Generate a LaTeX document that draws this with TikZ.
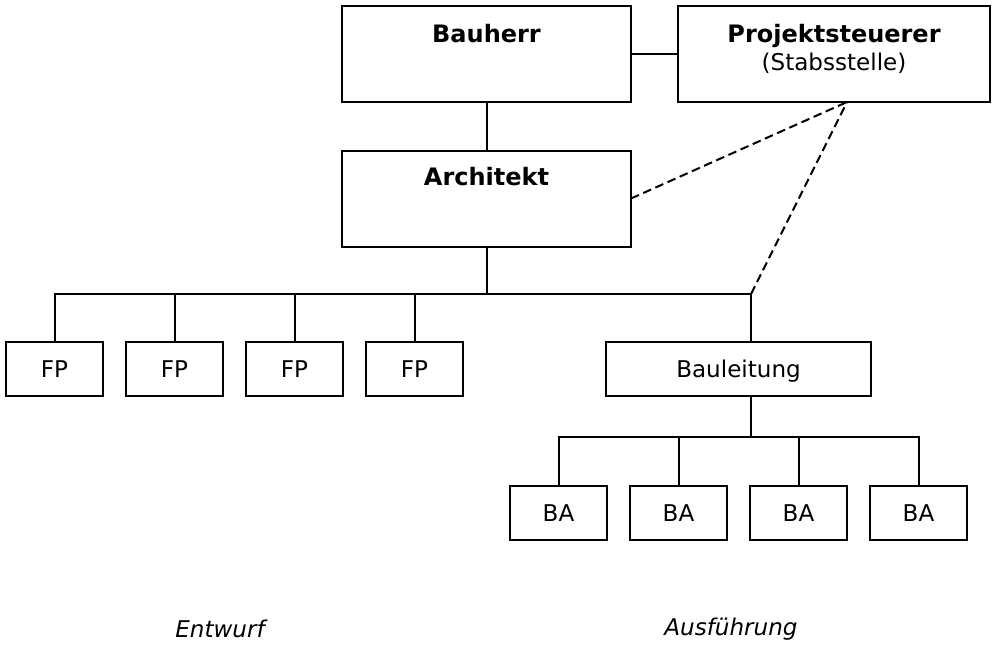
\documentclass[tikz,border=0pt]{standalone}
\usepackage{fontspec}
\setmainfont{DejaVu Sans}
\usetikzlibrary{calc}
\newcommand{\Px}{0.75pt}
\newcommand{\Edge}{1.5pt}
\newcommand{\BoxW}{97}
\newcommand{\BoxH}{54}
\newcommand{\Pitch}{120}
\definecolor{ink}{HTML}{000000}

\tikzset{
  bigbox/.style={draw=ink, line width=\Edge, inner sep=0pt, outer sep=0pt,
    minimum width=289*\Px, minimum height=96*\Px},
  smallbox/.style={draw=ink, line width=\Edge, inner sep=0pt, outer sep=0pt,
    minimum width=\BoxW*\Px, minimum height=\BoxH*\Px,
    text height=0.95em, text depth=0.25em},
  link/.style={draw=ink, line width=\Edge},
  dashlink/.style={link, dash pattern=on 6.5pt off 3.5pt},
  titletxt/.style={font=\fontsize{18}{21}\selectfont\bfseries, inner sep=0pt, anchor=base},
  subtxt/.style={inner sep=0pt, anchor=base},
  phasetxt/.style={font=\itshape, inner sep=0pt},
}

\begin{document}
\fontsize{17.3}{20}\selectfont
\begin{tikzpicture}[x=\Px,y=-\Px]
  \useasboundingbox (0,0) rectangle (994,646);

  % ---- top: client and project control --------------------------------------
  \node[bigbox] (bauherr) at (486.5,54) {};
  \node[titletxt] (bauherrtxt) at ($(bauherr.north)+(0,36)$) {Bauherr};
  \node[bigbox, minimum width=312*\Px] (steuerer) at (834,54) {};
  \node[titletxt] (steuerertxt) at ($(steuerer.north)+(0,36)$) {Projektsteuerer};
  \node[subtxt] (stabstxt) at ($(steuerer.north)+(0,64)$) {(Stabsstelle)};
  \draw[link] (bauherr.east) -- (steuerer.west);

  % ---- architect ------------------------------------------------------------
  \node[bigbox] (architekt) at (486.5,198.5) {};
  \node[titletxt] (architekttxt) at ($(architekt.north)+(0,35)$) {Architekt};
  \draw[link] (bauherr.south) -- (architekt.north);

  % ---- planners and site management ---------------------------------------
  \foreach \i in {1,...,4} {
    \pgfmathsetmacro\x{54.5 + (\i-1)*\Pitch}
    \node[smallbox] (fp\i) at (\x,369) {FP};
  }
  \node[smallbox, minimum width=265*\Px] (bauleitung) at (738.5,369) {Bauleitung};

  \coordinate (blbus) at (751,294);
  \draw[link] (fp1.north) |- (blbus) -- (blbus |- bauleitung.north);
  \foreach \i in {2,3,4} {
    \draw[link] (fp\i.north) -- (fp\i.north |- blbus);
  }
  \draw[link] (architekt.south) -- (architekt.south |- blbus);

  % ---- site crews -----------------------------------------------------------
  \foreach \i in {1,...,4} {
    \pgfmathsetmacro\x{558.5 + (\i-1)*\Pitch}
    \node[smallbox] (ba\i) at (\x,513) {BA};
  }
  \coordinate (babus) at (751,437);
  \draw[link] (blbus |- bauleitung.south) -- (babus);
  \draw[link] (ba1.north) |- (ba4.north |- babus) -- (ba4.north);
  \foreach \i in {2,3} {
    \draw[link] (ba\i.north) -- (ba\i.north |- babus);
  }

  % ---- staff link, dashed ---------------------------------------------------
  \coordinate (pslink) at (steuerer.south -| 847,0);
  \draw[dashlink] (architekt.east) -- (pslink);
  \draw[dashlink] (blbus) -- (pslink);

  % ---- phases ---------------------------------------------------------------
  \node[phasetxt] (entwurf) at (220,629) {Entwurf};
  \node[phasetxt] (ausfuehrung) at (731,629) {Ausführung};

\end{tikzpicture}
\end{document}
